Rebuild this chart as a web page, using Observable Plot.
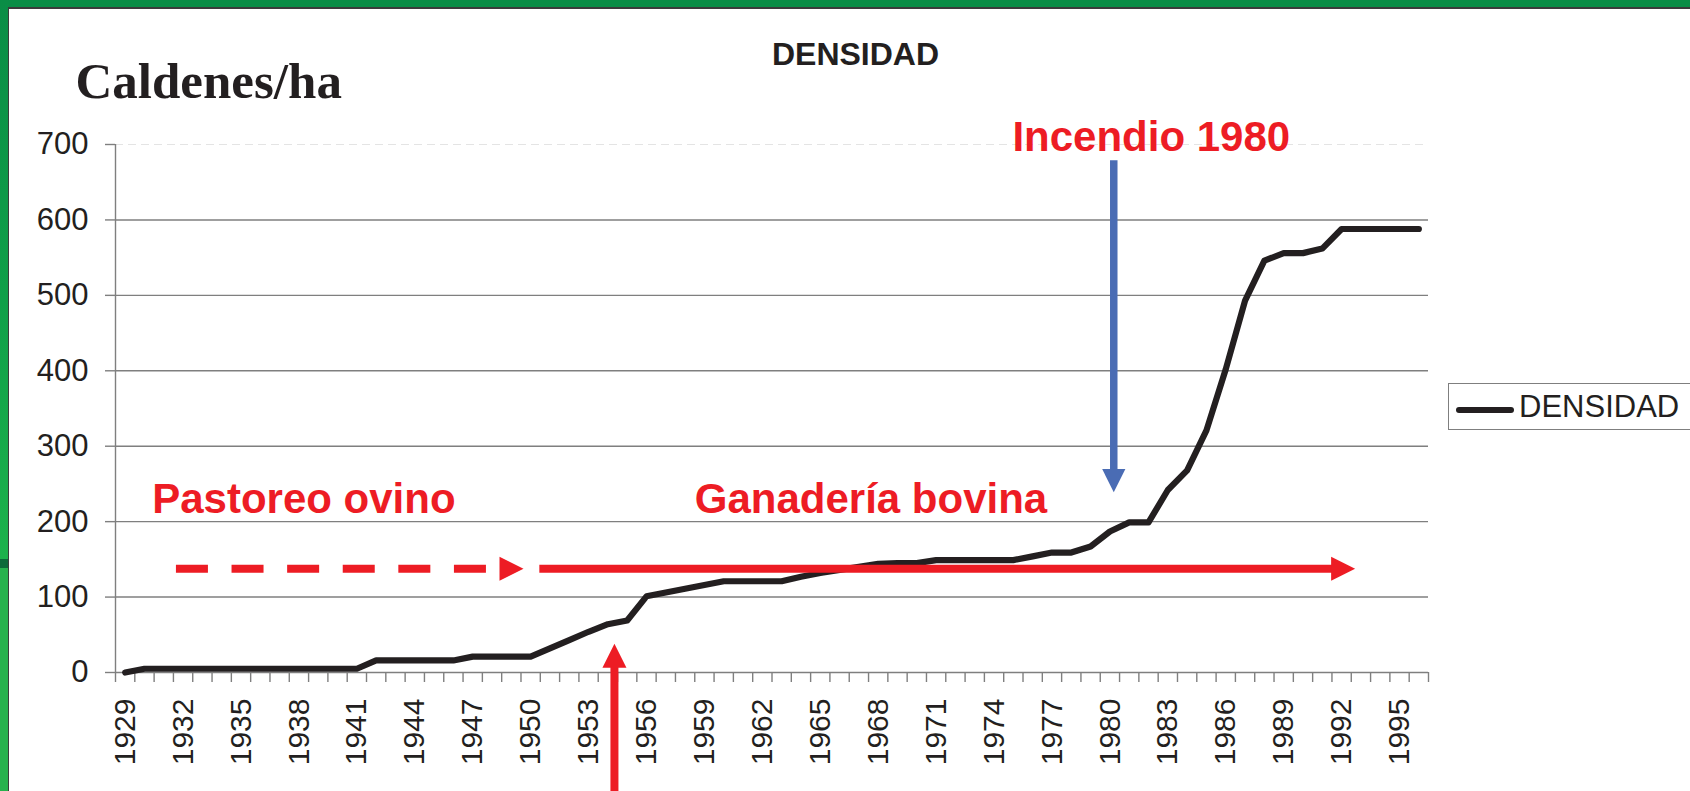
<!DOCTYPE html>
<html>
<head>
<meta charset="utf-8">
<script src="https://cdn.jsdelivr.net/npm/d3@7"></script>
<script src="https://cdn.jsdelivr.net/npm/@observablehq/plot@0.6"></script>
<style>
  html, body { margin: 0; padding: 0; background: #ffffff; overflow: hidden; }
  #wrap { position: relative; width: 1690px; height: 791px; background: #fff; }
  #chart { position: absolute; left: 0; top: 0; }
  .bTop { position: absolute; left: 0; top: 0; width: 1690px; height: 7px; background: #0a8d46; }
  .bTopLine { position: absolute; left: 8px; top: 7px; width: 1682px; height: 1.6px; background: #3b3b3b; }
  .bLeft { position: absolute; left: 0; top: 0; width: 7.5px; height: 791px;
           background: linear-gradient(#0a8d46 0px, #10a049 300px, #1db24c 559px, #0c6a3a 559px, #0c6a3a 568px, #27b24d 568px, #27b24d 791px); }
  .bLeftLine { position: absolute; left: 7.5px; top: 7px; width: 1.6px; height: 784px; background: #3b3b3b; }
  #legend { position: absolute; left: 1448px; top: 383px; width: 280px; height: 47px;
            border: 1.5px solid #7f7f7f; background: #fff; box-sizing: border-box; }
  #legend svg { position: absolute; left: 0; top: 0; }
  #legend span { position: absolute; left: 70px; top: 6px; font-family: "Liberation Sans", Arial, sans-serif;
                 font-size: 31px; color: #231f20; line-height: 34px; }
</style>
</head>
<body>
<div id="wrap">
  <div id="chart"></div>
  <div class="bTop"></div>
  <div class="bLeft"></div>
  <div class="bTopLine"></div>
  <div class="bLeftLine"></div>
  <div id="legend">
    <svg width="70" height="46"><line x1="10" y1="26" x2="62" y2="26" stroke="#231f20" stroke-width="6" stroke-linecap="round"/></svg>
    <span>DENSIDAD</span>
  </div>
</div>
<script>
// ---- data ----
const years = [1929,1930,1931,1932,1933,1934,1935,1936,1937,1938,1939,1940,1941,1942,1943,1944,1945,1946,1947,1948,
  1949,1950,1951,1952,1953,1954,1955,1956,1957,1958,1959,1960,1961,1962,1963,1964,1965,1966,1967,1968,
  1969,1970,1971,1972,1973,1974,1975,1976,1977,1978,1979,1980,1981,1982,1983,1984,1985,1986,1987,1988,
  1989,1990,1991,1992,1993,1994,1995,1996];
const densidad = [0,5,5,5,5,5,5,5,5,5,5,5,5,16,16,16,16,16,21,21,
  21,21,32,43,54,64,69,101,106,111,116,121,121,121,121,127,132,136,140,144,
  145,145,149,149,149,149,149,154,159,159,167,187,199,199,242,268,321,402,493,546,
  556,556,562,588,588,588,588,588];
const yTickValues = [0,100,200,300,400,500,600,700];
const gridValues = [100,200,300,400,500,600];
const xLabelYears = [1929,1932,1935,1938,1941,1944,1947,1950,1953,1956,1959,1962,1965,1968,1971,1974,1977,1980,1983,1986,1989,1992,1995];
const categoryEdges = [1928.5,1929.5,1930.5,1931.5,1932.5,1933.5,1934.5,1935.5,1936.5,1937.5,1938.5,1939.5,1940.5,1941.5,1942.5,
  1943.5,1944.5,1945.5,1946.5,1947.5,1948.5,1949.5,1950.5,1951.5,1952.5,1953.5,1954.5,1955.5,1956.5,1957.5,1958.5,1959.5,
  1960.5,1961.5,1962.5,1963.5,1964.5,1965.5,1966.5,1967.5,1968.5,1969.5,1970.5,1971.5,1972.5,1973.5,1974.5,1975.5,1976.5,
  1977.5,1978.5,1979.5,1980.5,1981.5,1982.5,1983.5,1984.5,1985.5,1986.5,1987.5,1988.5,1989.5,1990.5,1991.5,1992.5,1993.5,
  1994.5,1995.5,1996.5];

// annotations (in data units: year, caldenes/ha)
const annotLabels = ["Pastoreo ovino", "Ganadería bovina", "Incendio 1980"];
const annotYear = [1930.4, 1958.5, 1974.95];
const annotValue = [212, 212, 692];

const dashedShaft = [{x1: 1931.63, y1: 137.5, x2: 1947.79, y2: 137.5}];
const redShafts = [
  {x1: 1950.45, y1: 137.5, x2: 1991.8, y2: 137.5},
  {x1: 1954.34, y1: -160, x2: 1954.34, y2: 8}
];
const blueShaft = [{x1: 1980.2, y1: 679, x2: 1980.2, y2: 268}];
const redHeads = [
  {x: 1949.63, y: 137.5, rot: 90},
  {x: 1992.7, y: 137.5, rot: 90},
  {x: 1954.34, y: 38, rot: 0}
];
const blueHeads = [{x: 1980.2, y: 239, rot: 180}];

// ---- build ----
const series = years.map((y, i) => ({year: y, value: densidad[i]}));
const annots = annotLabels.map((t, i) => ({text: t, x: annotYear[i], y: annotValue[i]}));

const arrowHead = {
  draw(context, size) {
    const k = Math.sqrt(size / Math.PI);
    context.moveTo(0, 0);
    context.lineTo(k, 2 * k);
    context.lineTo(-k, 2 * k);
    context.closePath();
  }
};

const RED = "#ed1c24", BLUE = "#4a6cb4", INK = "#231f20", GRID = "#7f7f7f";
const FONT = "'Liberation Sans', Arial, Helvetica, sans-serif";

const chart = Plot.plot({
  width: 1690,
  height: 791,
  marginLeft: 115,
  marginRight: 262,
  marginTop: 144,
  marginBottom: 119,
  style: {fontFamily: FONT, background: "transparent", overflow: "visible", color: INK},
  x: {domain: [1928.5, 1996.5]},
  y: {domain: [0, 700]},
  marks: [
    Plot.ruleY([700], {stroke: "#e4e4e4", strokeWidth: 1.2, strokeDasharray: "8,5"}),
    Plot.ruleY(gridValues, {stroke: GRID, strokeWidth: 1.4}),
    Plot.ruleY([0], {stroke: GRID, strokeWidth: 1.4}),
    Plot.ruleX([1928.5], {stroke: GRID, strokeWidth: 1.4}),
    // y ticks and labels
    Plot.axisY({ticks: yTickValues, tickSize: 10, tickFormat: () => "", stroke: GRID, strokeWidth: 1.4, label: null}),
    Plot.axisY({ticks: yTickValues, tickSize: 0, tickPadding: 27, fontSize: 31, fill: INK, label: null}),
    // x ticks at category edges, labels every 3 years
    Plot.axisX({ticks: categoryEdges, tickSize: 10, tickFormat: () => "", stroke: GRID, strokeWidth: 1.4, label: null}),
    Plot.axisX({ticks: xLabelYears, tickSize: 0, tickPadding: 26, rotate: -90, textAnchor: "end", lineAnchor: "middle",
                fontSize: 30, fill: INK, tickFormat: d => String(d), label: null}),
    // data line
    Plot.line(series, {x: "year", y: "value", stroke: INK, strokeWidth: 6.2, strokeLinejoin: "round", strokeLinecap: "round"}),
    // arrows
    Plot.link(dashedShaft, {x1: "x1", y1: "y1", x2: "x2", y2: "y2", stroke: RED, strokeWidth: 8, strokeDasharray: "32,23.6"}),
    Plot.link(redShafts, {x1: "x1", y1: "y1", x2: "x2", y2: "y2", stroke: RED, strokeWidth: 8}),
    Plot.link(blueShaft, {x1: "x1", y1: "y1", x2: "x2", y2: "y2", stroke: BLUE, strokeWidth: 7.5}),
    Plot.dot(redHeads, {x: "x", y: "y", rotate: "rot", symbol: arrowHead, r: 12, fill: RED, stroke: "none"}),
    Plot.dot(blueHeads, {x: "x", y: "y", rotate: "rot", symbol: arrowHead, r: 11.6, fill: BLUE, stroke: "none"}),
    // annotation labels
    Plot.text(annots, {x: "x", y: "y", text: "text", textAnchor: "start", lineAnchor: "bottom", fontSize: 42, fontWeight: "bold", fill: RED}),
    // title and unit label
    Plot.text(["DENSIDAD"], {frameAnchor: "top-left", dx: 740, dy: -80, textAnchor: "middle", lineAnchor: "bottom", fontSize: 32, fontWeight: "bold", fill: INK}),
    Plot.text(["Caldenes/ha"], {frameAnchor: "top-left", dx: -40, dy: -47, textAnchor: "start", lineAnchor: "bottom", fontSize: 51, fontWeight: "bold", fontFamily: "'Liberation Serif', 'Times New Roman', serif", fill: INK})
  ]
});
document.getElementById("chart").appendChild(chart);
</script>
</body>
</html>
